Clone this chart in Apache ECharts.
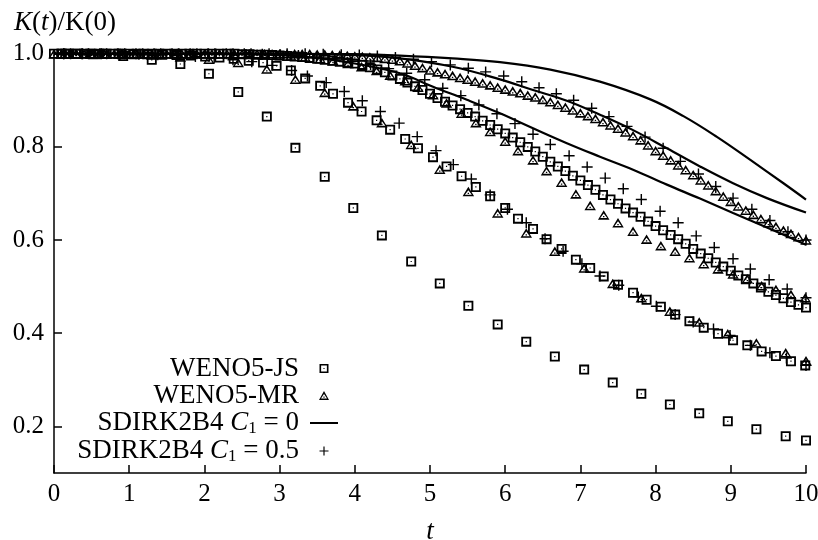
<!DOCTYPE html>
<html><head><meta charset="utf-8">
<script src="https://cdn.jsdelivr.net/npm/echarts@6/dist/echarts.min.js"></script>
<style>html,body{margin:0;padding:0;background:#fff}#c{width:818px;height:540px}</style>
</head><body><div id="c"></div>
<script>
// ---- data (t, K(t)/K(0)) ----
const tCoarse = [0.15,0.53,0.92,1.30,1.68,2.06,2.45,2.83,3.21,3.60,3.98,4.36,4.75,5.13,5.51,5.90,6.28,6.66,7.05,7.43,7.81,8.19,8.58,8.96,9.34,9.73,10.0];
const jsCoarse = [1.000,0.999,0.995,0.987,0.978,0.957,0.918,0.865,0.798,0.736,0.669,0.610,0.554,0.507,0.459,0.419,0.382,0.350,0.322,0.294,0.270,0.247,0.228,0.211,0.194,0.179,0.170];
const mrCoarse = [1.000,1.000,0.999,0.997,0.993,0.988,0.981,0.967,0.945,0.917,0.888,0.852,0.805,0.752,0.704,0.658,0.615,0.576,0.540,0.507,0.476,0.447,0.424,0.399,0.379,0.358,0.341];

const tMid = [0.10,0.29,0.48,0.67,0.86,1.06,1.25,1.44,1.63,1.82,2.01,2.20,2.39,2.59,2.78,2.96,3.15,3.34,3.54,3.71,3.91,4.09,4.29,4.47,4.67,4.84,5.04,5.22,5.42,5.61,5.80,6.00,6.17,6.37,6.55,6.75,6.94,7.13,7.31,7.50,7.70,7.88,8.07,8.26,8.45,8.64,8.83,9.03,9.22,9.41,9.60,9.80,9.99];
const jsMid = [1.000,1.000,1.000,1.000,1.000,0.999,0.999,0.998,0.997,0.996,0.994,0.992,0.989,0.985,0.981,0.974,0.964,0.947,0.931,0.914,0.895,0.876,0.857,0.837,0.817,0.797,0.778,0.758,0.737,0.714,0.694,0.669,0.646,0.624,0.602,0.581,0.558,0.540,0.522,0.504,0.487,0.472,0.457,0.440,0.426,0.412,0.399,0.385,0.374,0.361,0.351,0.340,0.331];
const mrMid = [1.000,1.000,1.000,1.000,1.000,1.000,1.000,1.000,1.000,1.000,1.000,1.000,0.999,0.999,0.998,0.997,0.995,0.993,0.989,0.985,0.979,0.972,0.964,0.954,0.942,0.928,0.912,0.894,0.872,0.852,0.833,0.812,0.792,0.772,0.749,0.724,0.699,0.674,0.654,0.637,0.619,0.602,0.588,0.576,0.562,0.549,0.538,0.527,0.517,0.502,0.494,0.483,0.476];

const tFine = [0.0,0.1,0.2,0.3,0.4,0.5,0.6,0.7,0.8,0.9,1.0,1.1,1.2,1.3,1.4,1.5,1.6,1.7,1.8,1.9,2.0,2.1,2.2,2.3,2.4,2.5,2.6,2.7,2.8,2.9,3.0,3.1,3.2,3.3,3.4,3.5,3.6,3.7,3.8,3.9,4.0,4.1,4.2,4.3,4.4,4.5,4.6,4.7,4.8,4.9,5.0,5.1,5.2,5.3,5.4,5.5,5.6,5.7,5.8,5.9,6.0,6.1,6.2,6.3,6.4,6.5,6.6,6.7,6.8,6.9,7.0,7.1,7.2,7.3,7.4,7.5,7.6,7.7,7.8,7.9,8.0,8.1,8.2,8.3,8.4,8.5,8.6,8.7,8.8,8.9,9.0,9.1,9.2,9.3,9.4,9.5,9.6,9.7,9.8,9.9,10.0];
const jsFine = [1.000,1.000,1.000,1.000,1.000,1.000,1.000,1.000,1.000,1.000,1.000,1.000,1.000,1.000,1.000,1.000,1.000,1.000,1.000,1.000,1.000,1.000,1.000,1.000,1.000,0.999,0.999,0.998,0.998,0.997,
 0.996,0.995,0.994,0.993,0.991,0.989,0.987,0.985,0.983,0.981,
 0.979,0.976,0.971,0.966,0.960,0.953,0.946,0.938,0.930,0.922,
 0.914,0.905,0.897,0.889,0.881,0.873,0.865,0.856,0.847,0.838,
 0.829,0.820,0.810,0.800,0.790,0.779,0.768,0.758,0.748,0.738,
 0.728,0.718,0.708,0.697,0.687,0.678,0.668,0.659,0.650,0.640,
 0.630,0.621,0.611,0.602,0.592,0.581,0.571,0.561,0.552,0.543,
 0.534,0.524,0.516,0.507,0.498,0.489,0.482,0.475,0.467,0.461,
 0.455];
const mrFine = [1.000,1.000,1.000,1.000,1.000,1.000,1.000,1.000,1.000,1.000,1.000,1.000,1.000,1.000,1.000,1.000,1.000,1.000,1.000,1.000,1.000,1.000,1.000,1.000,1.000,1.000,1.000,1.000,1.000,1.000,1.000,1.000,1.000,1.000,1.000,
 0.999,0.999,0.998,0.997,0.996,
 0.995,0.994,0.993,0.992,0.990,0.988,0.985,0.980,0.975,0.970,
 0.965,0.961,0.957,0.953,0.949,0.945,0.941,0.937,0.933,0.928,
 0.924,0.920,0.916,0.911,0.907,0.902,0.897,0.891,0.885,0.879,
 0.873,0.867,0.861,0.854,0.847,0.840,0.832,0.824,0.815,0.804,
 0.792,0.782,0.772,0.761,0.751,0.740,0.729,0.718,0.706,0.694,
 0.683,0.673,0.664,0.655,0.646,0.637,0.629,0.621,0.614,0.607,
 0.600];

const tPlus1 = [0.13,0.38,0.63,0.88,1.13,1.38,1.63,1.88,2.13,2.38,2.63,2.90,3.16,3.37,3.62,3.86,4.10,4.34,4.59,4.83,5.08,5.31,5.55,5.80,6.03,6.28,6.53,6.77,7.02,7.26,7.51,7.77,8.01,8.26,8.50,8.77,8.99,9.26,9.52,9.74,10.0];
const sdPlus1 = [1.000,1.000,1.000,0.999,0.999,0.998,0.996,0.994,0.991,0.987,0.983,0.975,0.964,0.952,0.938,0.919,0.899,0.876,0.851,0.822,0.792,0.762,0.731,0.697,0.666,0.637,0.603,0.576,0.549,0.523,0.503,0.478,0.458,0.440,0.424,0.409,0.395,0.374,0.358,0.347,0.331];
const tPlus2 = [0.13,0.37,0.61,0.85,1.09,1.33,1.57,1.81,2.05,2.29,2.53,2.77,3.01,3.25,3.49,3.73,3.97,4.21,4.45,4.69,4.93,5.17,5.41,5.65,5.89,6.13,6.37,6.60,6.85,7.09,7.33,7.57,7.81,8.06,8.30,8.54,8.78,9.03,9.26,9.51,9.75,10.0];
const sdPlus2 = [1.000,1.000,1.000,1.000,1.000,1.000,1.000,1.000,1.000,1.000,1.000,0.999,0.998,0.996,0.993,0.989,0.984,0.977,0.968,0.958,0.944,0.926,0.910,0.890,0.871,0.850,0.827,0.805,0.781,0.757,0.733,0.710,0.687,0.662,0.637,0.609,0.584,0.560,0.538,0.515,0.495,0.476];
const tPlus3 = [0.22,0.46,0.70,0.94,1.18,1.42,1.66,1.90,2.14,2.38,2.62,2.86,3.10,3.34,3.58,3.82,4.06,4.30,4.54,4.78,5.02,5.27,5.51,5.74,5.98,6.22,6.45,6.68,6.91,7.15,7.38,7.62,7.86,8.10,8.33,8.57,8.80,9.03,9.28,9.52,9.76,10.0];
const sdPlus3 = [1.000,1.000,1.000,1.000,1.000,1.000,1.000,1.000,1.000,1.000,1.000,1.000,1.000,1.000,0.999,0.998,0.997,0.995,0.992,0.988,0.983,0.976,0.969,0.961,0.952,0.940,0.927,0.914,0.900,0.883,0.865,0.844,0.821,0.797,0.769,0.742,0.715,0.690,0.666,0.642,0.618,0.600];

const tLineA = [0,1,2,3,4,4.6,5.3,5.93,6.6,7.26,7.93,8.37,8.81,9.26,9.70,10.0];
const lineA  = [1.0,1.0,1.0,1.0,0.999,0.996,0.990,0.982,0.966,0.940,0.902,0.866,0.822,0.772,0.722,0.687];
const tLineB = [0,1,2,3,4,4.6,5.3,5.93,6.37,6.82,7.26,7.70,8.15,8.59,9.03,9.48,10.0];
const lineB  = [1.0,1.0,1.0,1.0,0.997,0.990,0.972,0.945,0.922,0.899,0.869,0.836,0.797,0.758,0.722,0.690,0.659];
const tLineC = [0,1,2,2.5,3,3.5,4,4.6,5.04,5.49,5.93,6.37,6.82,7.26,7.70,8.15,8.59,9.03,9.48,10.0];
const lineC  = [1.0,1.0,1.0,0.999,0.997,0.991,0.979,0.958,0.929,0.901,0.872,0.840,0.808,0.779,0.751,0.719,0.689,0.658,0.627,0.590];

const xTicks = [0,1,2,3,4,5,6,7,8,9,10];
const yTicks = [0.2,0.4,0.6,0.8,1.0];
const names = ['WENO5-JS','WENO5-MR','SDIRK2B4 C1 = 0','SDIRK2B4 C1 = 0.5'];

// ---- build ----
const zip = (t, k) => t.map((v, i) => [v, k[i]]);
const INK = '#000';
const FONT = '"Liberation Serif", "Times New Roman", serif';
const SQ = 'path://M0,0 L10,0 L10,10 L0,10 Z M1.8,1.8 L1.8,8.2 L8.2,8.2 L8.2,1.8 Z M4.4,4.4 L5.6,4.4 L5.6,5.6 L4.4,5.6 Z';
const TRI = 'path://M5,0 L10,9 L0,9 Z M5,3.1 L2.0,7.5 L8.0,7.5 Z M4.4,5.6 L5.6,5.6 L5.6,6.8 L4.4,6.8 Z';
const PLUS = 'path://M4.35,0 L5.65,0 L5.65,4.35 L10,4.35 L10,5.65 L5.65,5.65 L5.65,10 L4.35,10 L4.35,5.65 L0,5.65 L0,4.35 L4.35,4.35 Z';
const LINEICON = 'path://M0,0 L28,0 L28,2 L0,2 Z';

function scat(name, t, k, sym, size) {
  return { name, type: 'scatter', data: zip(t, k), symbol: sym, symbolSize: size, clip: false,
    itemStyle: { color: INK, opacity: 1 }, emphasis: { disabled: true }, z: 3 };
}
function line(name, t, k) {
  return { name, type: 'line', data: zip(t, k), smooth: 0.4, showSymbol: false, symbol: 'none',
    lineStyle: { color: INK, width: 2.2 }, itemStyle: { color: INK }, emphasis: { disabled: true }, z: 2 };
}

const series = [
  scat(names[0], tCoarse, jsCoarse, SQ, 10),
  scat(names[0], tMid, jsMid, SQ, 10),
  scat(names[0], tFine, jsFine, SQ, 10),
  scat(names[1], tCoarse, mrCoarse, TRI, [11.5, 9.5]),
  scat(names[1], tMid, mrMid, TRI, [11.5, 9.5]),
  scat(names[1], tFine, mrFine, TRI, [11.5, 9.5]),
  line(names[2], tLineA, lineA),
  line(names[2], tLineB, lineB),
  line(names[2], tLineC, lineC),
  scat(names[3], tPlus1, sdPlus1, PLUS, 11),
  scat(names[3], tPlus2, sdPlus2, PLUS, 11),
  scat(names[3], tPlus3, sdPlus3, PLUS, 11)
];

const legendRich = {
  n: { fontFamily: FONT, fontSize: 27, color: INK, lineHeight: 26 },
  c: { fontFamily: FONT, fontSize: 27, fontStyle: 'italic', color: INK, lineHeight: 26 },
  s: { fontFamily: FONT, fontSize: 17, color: INK, lineHeight: 11, padding: [11, 0, 0, 0] }
};

const chart = echarts.init(document.getElementById('c'), null, { renderer: 'canvas' });
chart.setOption({
  animation: false,
  backgroundColor: '#fff',
  grid: { left: 54, right: 12, top: 50, bottom: 67, containLabel: false, outerBoundsMode: 'none' },
  xAxis: {
    type: 'value', min: 0, max: 10, interval: 1,
    name: 't', nameLocation: 'middle', nameGap: 45,
    nameTextStyle: { fontFamily: FONT, fontSize: 27, fontStyle: 'italic', color: INK },
    axisLine: { show: true, onZero: false, lineStyle: { color: INK, width: 1.5 } },
    axisTick: { show: true, inside: true, length: 8, lineStyle: { color: INK, width: 1.5 }, customValues: xTicks },
    axisLabel: { fontFamily: FONT, fontSize: 25, color: INK, margin: 9, customValues: xTicks },
    splitLine: { show: false }
  },
  yAxis: {
    type: 'value', min: 0.1, max: 1.008,
    name: '{i|K}({i|t})/K(0)', nameLocation: 'end', nameGap: 14,
    nameTextStyle: { fontFamily: FONT, fontSize: 27, color: INK, align: 'center', padding: [0, 0, 0, 22],
      rich: { i: { fontFamily: FONT, fontSize: 27, fontStyle: 'italic', color: INK } } },
    axisLine: { show: true, onZero: false, lineStyle: { color: INK, width: 1.5 } },
    axisTick: { show: true, inside: true, length: 8, lineStyle: { color: INK, width: 1.5 }, customValues: yTicks },
    axisLabel: { fontFamily: FONT, fontSize: 25, color: INK, margin: 10, customValues: yTicks,
      formatter: v => v.toFixed(1) },
    splitLine: { show: false }
  },
  legend: {
    orient: 'vertical', align: 'right', right: 480, top: 355, padding: 0,
    itemWidth: 28, itemHeight: 9, itemGap: 0, selectedMode: false, symbolKeepAspect: true,
    data: [
      { name: names[0] },
      { name: names[1] },
      { name: names[2], icon: LINEICON },
      { name: names[3] }
    ],
    formatter: n => {
      const m = n.match(/^SDIRK2B4 C1 = (.*)$/);
      return m ? '{n|SDIRK2B4 }{c|C}{s|1}{n| = ' + m[1] + '}' : '{n|' + n + '}';
    },
    textStyle: { fontFamily: FONT, fontSize: 27, color: INK, lineHeight: 26, padding: [0, 6, 0, 0], rich: legendRich }
  },
  series
});
</script></body></html>
